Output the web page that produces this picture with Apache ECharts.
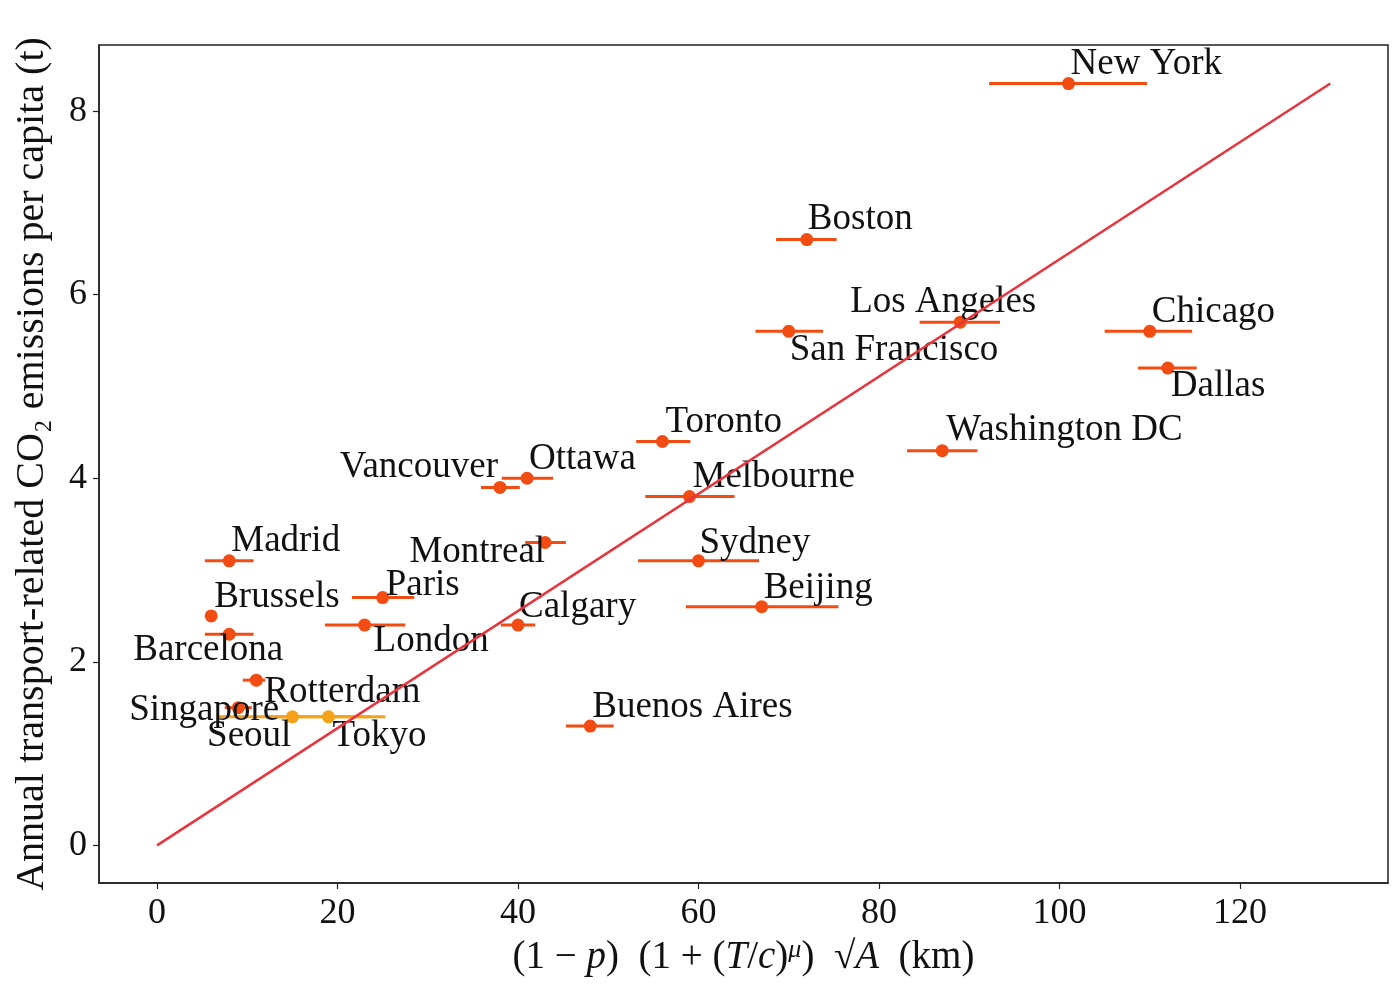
<!DOCTYPE html>
<html>
<head>
<meta charset="utf-8">
<script src="https://cdn.jsdelivr.net/npm/echarts@6/dist/echarts.min.js"></script>
<style>
  html, body { margin: 0; padding: 0; background: #fff; }
  #chart { width: 1395px; height: 985px; }
</style>
</head>
<body>
<div id="chart"></div>
<script>
    // ---------- data ----------
    const cities = ['New York', 'Boston', 'San Francisco', 'Los Angeles', 'Chicago', 'Dallas',
      'Washington DC', 'Toronto', 'Melbourne', 'Ottawa', 'Vancouver', 'Montreal', 'Sydney',
      'Beijing', 'Calgary', 'Madrid', 'Brussels', 'Barcelona', 'Paris', 'London', 'Rotterdam',
      'Singapore', 'Seoul', 'Tokyo', 'Buenos Aires'];
    const xVals = [101, 72, 70, 89, 110, 112, 87, 56, 59, 41, 38, 43, 60, 67, 40, 8, 6, 8, 25, 23, 11, 9, 15, 19, 48];
    const yVals = [8.3, 6.6, 5.6, 5.7, 5.6, 5.2, 4.3, 4.4, 3.8, 4.0, 3.9, 3.3, 3.1, 2.6, 2.4, 3.1, 2.5, 2.3, 2.7, 2.4, 1.8, 1.5, 1.4, 1.4, 1.3];
    const xLow  = [92.2, 68.6, 66.3, 84.5, 105.0, 108.7, 83.1, 53.1, 54.1, 38.2, 35.9, 40.8, 53.3, 58.6, 38.1, 5.3, 6, 5.3, 21.6, 18.6, 9.5, 7.5, 6.6, 12.5, 45.3];
    const xHigh = [109.7, 75.3, 73.8, 93.4, 114.7, 115.2, 90.9, 59.1, 64.0, 43.9, 40.2, 45.3, 66.7, 75.5, 41.9, 10.7, 6, 10.7, 28.5, 27.5, 12.0, 10.5, 23.5, 25.3, 50.6];
    const secondGroup = ['Seoul', 'Tokyo'];
    const fitLine = [[0, 0], [130, 8.3]];
    const xTicks = [0, 20, 40, 60, 80, 100, 120];
    const yTicks = [0, 2, 4, 6, 8];

    // ---------- label placement (pixel offsets from the marker centre) ----------
    const labelPlace = {
      'New York': ['left', 2, -19], 'Boston': ['left', 1, -20], 'San Francisco': ['left', 1, 19],
      'Los Angeles': ['left', -110, -20], 'Chicago': ['left', 2, -19], 'Dallas': ['left', 3, 18],
      'Washington DC': ['left', 4, -20], 'Toronto': ['left', 3, -19], 'Melbourne': ['left', 3, -19],
      'Ottawa': ['left', 2, -19], 'Vancouver': ['right', -2, -20], 'Montreal': ['right', 0, 10],
      'Sydney': ['left', 1, -18], 'Beijing': ['left', 2, -18], 'Calgary': ['left', 1, -18],
      'Madrid': ['left', 2, -20], 'Brussels': ['left', 3, -19], 'Barcelona': ['center', -21, 16],
      'Paris': ['left', 3, -12], 'London': ['left', 9, 16], 'Rotterdam': ['left', 8, 12],
      'Singapore': ['right', 41, 3], 'Seoul': ['right', -1, 19], 'Tokyo': ['left', 4, 19],
      'Buenos Aires': ['left', 2, -19]
    };

    const FONT = '"Liberation Serif", "DejaVu Serif", serif';
    const TXT = '#111';
    const C_MAIN = '#f24c12';
    const C_ALT = '#f5a11a';
    const C_FIT = '#e8343c';
    const SYM = 13;

    const colorOf = name => secondGroup.includes(name) ? C_ALT : C_MAIN;

    const points = cities.map((name, i) => {
      const p = labelPlace[name];
      return {
        name,
        value: [xVals[i], yVals[i]],
        itemStyle: { color: colorOf(name), opacity: 1 },
        label: { align: p[0], verticalAlign: 'middle', position: [SYM / 2 + p[1], SYM / 2 + p[2]] }
      };
    });
    const bars = cities.map((name, i) => ({ name, value: [xLow[i], xHigh[i], yVals[i]] }));

    const axisCommon = {
      splitLine: { show: false },
      axisLine: { show: true, onZero: false, lineStyle: { color: '#222', width: 1.5 } },
      axisTick: { show: true, length: 6, inside: false, lineStyle: { color: '#222', width: 1.2 } }
    };

    const chart = echarts.init(document.getElementById('chart'), null, { renderer: 'canvas' });
    chart.setOption({
      animation: false,
      textStyle: { fontFamily: FONT },
      grid: {
        left: 99, right: 7, top: 45, bottom: 102,
        show: true, borderColor: '#222', borderWidth: 1.5, backgroundColor: '#fff'
      },
      xAxis: Object.assign({}, axisCommon, {
        type: 'value', min: -6.43, max: 136.4,
        name: '{t|(1 − }{i|p}{t|)  (1 + (}{i|T}{t|/}{i|c}{t|)}{s|μ}{t|)  √}{i|A}{t|  (km)}',
        nameLocation: 'middle', nameGap: 50,
        nameTextStyle: {
          rich: {
            t: { fontFamily: FONT, fontSize: 39, color: TXT },
            i: { fontFamily: FONT, fontSize: 39, fontStyle: 'italic', color: TXT },
            s: { fontFamily: FONT, fontSize: 26, fontStyle: 'italic', color: TXT, verticalAlign: 'top', padding: [0, 0, 16, 0] }
          }
        },
        axisTick: Object.assign({}, axisCommon.axisTick, { customValues: xTicks }),
        axisLabel: { customValues: xTicks, fontFamily: FONT, fontSize: 36, color: TXT, margin: 13 }
      }),
      yAxis: Object.assign({}, axisCommon, {
        type: 'value', min: -0.41, max: 8.72,
        name: 'Annual transport-related CO₂ emissions per capita (t)',
        nameLocation: 'middle', nameGap: 47,
        nameTextStyle: { fontFamily: FONT, fontSize: 40, color: TXT },
        axisTick: Object.assign({}, axisCommon.axisTick, { customValues: yTicks }),
        axisLabel: { customValues: yTicks, fontFamily: FONT, fontSize: 36, color: TXT, margin: 12 }
      }),
      series: [
        {
          type: 'custom',
          z: 2,
          data: bars,
          renderItem: (params, api) => {
            const a = api.coord([api.value(0), api.value(2)]);
            const b = api.coord([api.value(1), api.value(2)]);
            const name = bars[params.dataIndex].name;
            return {
              type: 'line',
              shape: { x1: a[0], y1: a[1], x2: b[0], y2: b[1] },
              style: { stroke: colorOf(name), lineWidth: 3 }
            };
          }
        },
        {
          type: 'scatter',
          z: 3,
          symbolSize: SYM,
          data: points,
          label: { show: true, formatter: '{b}', fontFamily: FONT, fontSize: 37, color: TXT },
          labelLayout: { hideOverlap: false },
          emphasis: { disabled: true }
        },
        {
          type: 'line',
          z: 4,
          data: fitLine,
          showSymbol: false,
          lineStyle: { color: C_FIT, width: 2.5 },
          emphasis: { disabled: true }
        }
      ]
    });
</script>
</body>
</html>
